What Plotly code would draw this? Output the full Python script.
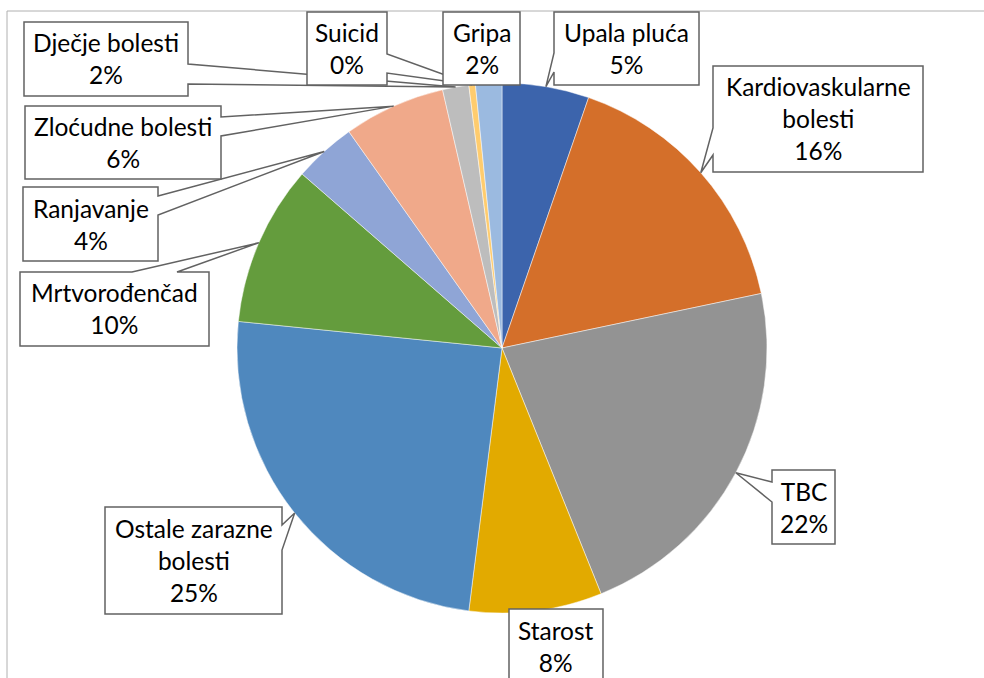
import math

import plotly.graph_objects as go

# Causes of death (share of total, %), clockwise from 12 o'clock
categories = [
    "Upala pluća",
    "Kardiovaskularne bolesti",
    "TBC",
    "Starost",
    "Ostale zarazne bolesti",
    "Mrtvorođenčad",
    "Ranjavanje",
    "Zloćudne bolesti",
    "Dječje bolesti",
    "Suicid",
    "Gripa",
]
values = [5.3, 16.4, 22.2, 8.1, 24.6, 9.8, 3.8, 6.2, 1.6, 0.4, 1.6]
label_text = [
    "Upala pluća",
    "Kardiovaskularne<br>bolesti",
    "TBC",
    "Starost",
    "Ostale zarazne<br>bolesti",
    "Mrtvorođenčad",
    "Ranjavanje",
    "Zloćudne bolesti",
    "Dječje bolesti",
    "Suicid",
    "Gripa",
]
colors = [
    "#3C64AC", "#D46F2A", "#939393", "#E2AA00", "#4F88BE", "#649C3D",
    "#8FA5D6", "#F0A98A", "#BDBDBD", "#FFCC6E", "#9BBAE0",
]

W, H = 984, 678
CX, CY, R = 502, 348, 265
FONT = "Lato, 'Open Sans', sans-serif"

# callout boxes in pixels: (x0, y0, x1, y1), side where the pointer leaves, span on that side
CALLOUTS = {
    "Dječje bolesti": ((24, 22, 188, 96), "right", (64, 84)),
    "Suicid": ((307, 12, 387, 85), "right", (54, 73)),
    "Gripa": ((443, 12, 520, 85), None, None),
    "Upala pluća": ((554, 12, 699, 85), "left", (53, 72)),
    "Kardiovaskularne bolesti": ((713, 66, 923, 172), "left", (128, 155)),
    "TBC": ((772, 470, 835, 544), "left", (482, 502)),
    "Starost": ((509, 609, 603, 684), None, None),
    "Ostale zarazne bolesti": ((105, 507, 282, 614), "right", (525, 550)),
    "Mrtvorođenčad": ((20, 272, 209, 346), "top", (132, 177)),
    "Ranjavanje": ((23, 187, 158, 261), "right", (196, 215)),
    "Zloćudne bolesti": ((25, 106, 221, 179), "right", (117, 136)),
}


def px(x, y):
    return x / W, 1 - y / H


def callout_path(box, side, span, tip):
    x0, y0, x1, y1 = box
    pts = [(x0, y0)]
    if side == "top":
        pts += [(span[0], y0), tip, (span[1], y0)]
    pts.append((x1, y0))
    if side == "right":
        pts += [(x1, span[0]), tip, (x1, span[1])]
    pts.append((x1, y1))
    if side == "bottom":
        pts += [(span[1], y1), tip, (span[0], y1)]
    pts.append((x0, y1))
    if side == "left":
        pts += [(x0, span[1]), tip, (x0, span[0])]
    coords = [px(x, y) for x, y in pts]
    return "M " + " L ".join(f"{a:.5f},{b:.5f}" for a, b in coords) + " Z"


total = sum(values)
tips = {}
cum = 0.0
for name, v in zip(categories, values):
    mid = (cum + v / 2) / total * 2 * math.pi
    tips[name] = (CX + R * math.sin(mid), CY - R * math.cos(mid))
    cum += v

fig = go.Figure(
    go.Pie(
        labels=categories,
        values=values,
        sort=False,
        direction="clockwise",
        rotation=0,
        marker=dict(colors=colors, line=dict(color="rgba(255,255,255,0.6)", width=0.8)),
        textinfo="none",
        showlegend=False,
        domain=dict(
            x=[(CX - R) / W, (CX + R) / W],
            y=[1 - (CY + R) / H, 1 - (CY - R) / H],
        ),
    )
)

shapes = [
    dict(type="rect", xref="paper", yref="paper",
         x0=7 / W, y0=1 - 11 / H, x1=1.02, y1=-0.02,
         line=dict(color="#B0B0B0", width=1), fillcolor="rgba(0,0,0,0)", layer="below")
]
annotations = []
for name, (box, side, span) in CALLOUTS.items():
    i = categories.index(name)
    shapes.append(dict(
        type="path", xref="paper", yref="paper",
        path=callout_path(box, side, span, tips[name]),
        line=dict(color="#626262", width=1.5), fillcolor="white", layer="above",
    ))
    pct = round(values[i] / total * 100)
    cx, cy = px((box[0] + box[2]) / 2, (box[1] + box[3]) / 2)
    annotations.append(dict(
        xref="paper", yref="paper", x=cx, y=cy, xanchor="center", yanchor="middle",
        text=f"{label_text[i]}<br>{pct}%", showarrow=False, align="center",
        font=dict(family=FONT, size=24.5, color="#000000"),
    ))

fig.update_layout(
    width=W, height=H, autosize=False,
    margin=dict(l=0, r=0, t=0, b=0),
    paper_bgcolor="white", plot_bgcolor="white",
    shapes=shapes, annotations=annotations,
)

# the page's default body margin would push the chart 8px right/down
fig.write_html(
    "out.html",
    config={"displayModeBar": False},
    post_script="document.body.style.margin='0';",
)
